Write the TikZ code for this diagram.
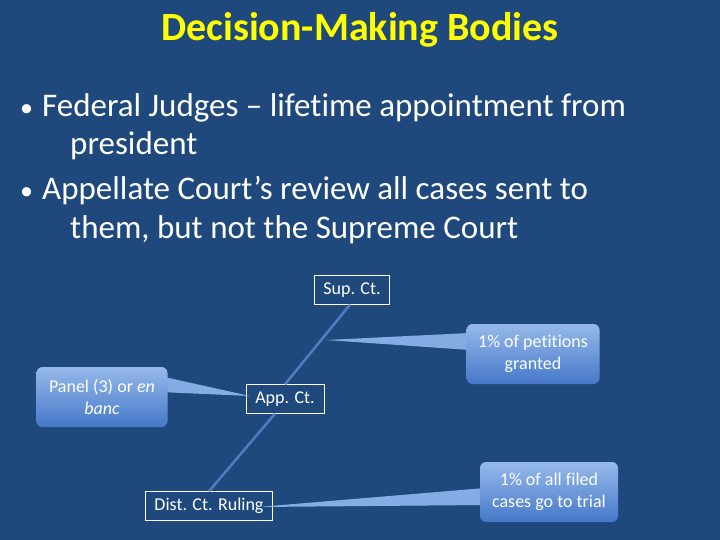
\documentclass[tikz,border=0pt]{standalone}
\usepackage{fontspec}
\setmainfont{Carlito}[Ligatures=NoCommon]
\usetikzlibrary{positioning,calc}
\definecolor{slidebg}{RGB}{31,73,125}
\definecolor{titleyellow}{RGB}{255,255,0}
\definecolor{calltop}{RGB}{150,185,235}
\definecolor{callbot}{RGB}{70,120,200}
\definecolor{connline}{RGB}{80,125,190}
\begin{document}
\begin{tikzpicture}[x=1pt,y=-1pt,
            court/.style={draw=white, thin, text=white, font=\fontsize{18}{20}\selectfont, minimum height=29pt, inner xsep=4pt},
            callout/.style={rounded corners=6pt, top color=calltop, bottom color=callbot, text=white, align=center, font=\fontsize{18}{22}\selectfont, minimum height=60pt},
            wedge/.style={fill=calltop!80!callbot},
            bullet/.style={anchor=base west, text=white, font=\fontsize{33}{38}\selectfont, inner sep=0pt},
            dot/.style={anchor=base west, text=white, font=\fontsize{26}{30}\selectfont, inner sep=0pt}]
        \fill[slidebg] (0,0) rectangle (720,540);
        \node[text=titleyellow, font=\fontsize{40}{44}\selectfont\bfseries] (title) at (360,30) {Decision-Making Bodies};
        % bullets
        \node[dot] (d1) at (20,117) {\textbullet};
        \node[bullet] (b1) at (42,117) {Federal Judges -- lifetime appointment from};
        \node[bullet] (b1b) at (70,155) {president};
        \node[dot] (d2) at (20,200) {\textbullet};
        \node[bullet] (b2) at (42,200) {Appellate Court's review all cases sent to};
        \node[bullet] (b2b) at (70,239) {them, but not the Supreme Court};
        % courts
        \node[court, minimum width=75pt] (sup) at (352,290) {Sup. Ct.};
        \node[court, minimum width=78pt] (app) at (285,399) {App. Ct.};
        \node[court, minimum width=127pt] (dist) at (209,506) {Dist. Ct. Ruling};
        \draw[connline, line width=2.5pt] ($(sup.south)+(-2,0)$) -- (app.north);
        \draw[connline, line width=2.5pt] ($(app.south)+(-10,0)$) -- ($(dist.north)+(0,0)$);
        % callouts
        \coordinate (tipa) at (326,340);
        \coordinate (tipb) at (250,396);
        \coordinate (tipc) at (258,507);
        \fill[wedge] (tipa) -- (470,333) -- (470,350) -- cycle;
        \fill[wedge] (tipb) -- (160,376) -- (160,392) -- cycle;
        \fill[wedge] (tipc) -- (485,488) -- (485,505) -- cycle;
        \node[callout, minimum width=133pt] (pet) at (533,354) {1\% of petitions\\granted};
        \node[callout, minimum width=131pt] (panel) at (102,397) {Panel (3) or \textit{en}\\\textit{banc}};
        \node[callout, minimum width=138pt] (trial) at (549,492) {1\% of all filed\\cases go to trial};
\end{tikzpicture}
\end{document}
